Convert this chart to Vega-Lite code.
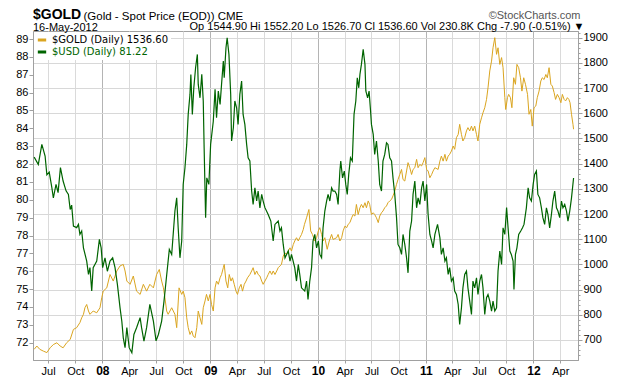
{
"$schema": "https://vega.github.io/schema/vega-lite/v6.json",
"width": 545, "height": 329,
"autosize": "none",
"padding": {"left": 33, "top": 31, "right": 46, "bottom": 20},
"background": "white",
"title": {"text": "$GOLD", "subtitle": "16-May-2012", "anchor": "start", "frame": "group", "font": "Liberation Sans", "fontSize": 14, "fontWeight": "bold", "color": "black", "subtitleFont": "Liberation Sans", "subtitleFontSize": 11, "subtitleColor": "black", "subtitlePadding": 0, "offset": -24},
"config": {
  "view": {"stroke": "#a0a0a0"},
  "axis": {"labelFont": "Liberation Sans", "labelColor": "black", "labelFontSize": 11, "domainColor": "#a0a0a0", "tickColor": "#a0a0a0", "titleFont": "Liberation Sans", "titleColor": "black", "titleFontWeight": "normal", "titlePadding": 0, "gridColor": "#d8d8d8"}
},
"datasets": {
"usd": [
{"date":"2007-05-15","usd":82.39},{"date":"2007-05-29","usd":81.98},{"date":"2007-06-10","usd":83.10},{"date":"2007-06-21","usd":82.45},{"date":"2007-06-27","usd":81.40},{"date":"2007-07-05","usd":81.55},{"date":"2007-07-14","usd":80.67},{"date":"2007-07-19","usd":80.10},{"date":"2007-07-28","usd":80.86},{"date":"2007-08-04","usd":80.40},{"date":"2007-08-12","usd":81.80},{"date":"2007-08-21","usd":81.05},{"date":"2007-08-31","usd":80.50},{"date":"2007-09-08","usd":80.30},{"date":"2007-09-14","usd":79.46},{"date":"2007-09-19","usd":79.70},{"date":"2007-09-25","usd":78.53},{"date":"2007-10-06","usd":78.44},{"date":"2007-10-12","usd":78.62},{"date":"2007-10-17","usd":78.06},{"date":"2007-10-23","usd":78.25},{"date":"2007-10-29","usd":77.31},{"date":"2007-11-09","usd":76.57},{"date":"2007-11-15","usd":75.82},{"date":"2007-11-20","usd":76.20},{"date":"2007-11-26","usd":74.89},{"date":"2007-12-01","usd":76.20},{"date":"2007-12-13","usd":76.57},{"date":"2007-12-22","usd":77.78},{"date":"2007-12-28","usd":77.31},
{"date":"2008-01-02","usd":76.20},{"date":"2008-01-10","usd":76.75},{"date":"2008-01-18","usd":76.00},{"date":"2008-01-27","usd":76.57},{"date":"2008-02-05","usd":76.75},{"date":"2008-02-13","usd":76.20},{"date":"2008-02-21","usd":75.26},{"date":"2008-03-01","usd":73.95},{"date":"2008-03-07","usd":73.20},{"date":"2008-03-12","usd":72.27},{"date":"2008-03-18","usd":71.72},{"date":"2008-03-24","usd":72.84},{"date":"2008-04-01","usd":71.72},{"date":"2008-04-10","usd":71.44},{"date":"2008-04-17","usd":72.46},{"date":"2008-04-26","usd":72.84},{"date":"2008-05-08","usd":73.40},{"date":"2008-05-13","usd":72.84},{"date":"2008-05-21","usd":72.09},{"date":"2008-05-30","usd":72.84},{"date":"2008-06-10","usd":74.14},{"date":"2008-06-22","usd":73.21},{"date":"2008-07-01","usd":72.10},{"date":"2008-07-09","usd":72.46},{"date":"2008-07-20","usd":73.21},{"date":"2008-07-28","usd":74.33},{"date":"2008-08-04","usd":75.45},{"date":"2008-08-15","usd":77.22},{"date":"2008-08-23","usd":76.94},{"date":"2008-09-03","usd":79.37},{"date":"2008-09-09","usd":80.11},{"date":"2008-09-14","usd":78.43},{"date":"2008-09-20","usd":76.75},{"date":"2008-09-26","usd":77.69},{"date":"2008-10-01","usd":80.86},{"date":"2008-10-07","usd":81.79},{"date":"2008-10-13","usd":83.10},{"date":"2008-10-18","usd":84.78},{"date":"2008-10-24","usd":85.90},{"date":"2008-10-27","usd":87.02},{"date":"2008-11-01","usd":84.78},{"date":"2008-11-06","usd":86.27},{"date":"2008-11-12","usd":87.39},{"date":"2008-11-18","usd":88.14},{"date":"2008-11-21","usd":86.46},{"date":"2008-11-27","usd":85.71},{"date":"2008-12-03","usd":87.02},{"date":"2008-12-08","usd":85.53},{"date":"2008-12-11","usd":82.90},{"date":"2008-12-16","usd":79.00},{"date":"2008-12-20","usd":81.23},{"date":"2008-12-27","usd":80.86},
{"date":"2009-01-02","usd":83.10},{"date":"2009-01-11","usd":84.40},{"date":"2009-01-17","usd":86.18},{"date":"2009-01-22","usd":84.59},{"date":"2009-01-28","usd":86.09},{"date":"2009-02-03","usd":85.34},{"date":"2009-02-08","usd":86.46},{"date":"2009-02-14","usd":87.77},{"date":"2009-02-17","usd":86.83},{"date":"2009-02-23","usd":88.51},{"date":"2009-02-27","usd":89.07},{"date":"2009-03-05","usd":88.14},{"date":"2009-03-11","usd":85.90},{"date":"2009-03-14","usd":83.29},{"date":"2009-03-20","usd":84.03},{"date":"2009-03-25","usd":85.53},{"date":"2009-03-31","usd":85.15},{"date":"2009-04-05","usd":84.22},{"date":"2009-04-11","usd":85.90},{"date":"2009-04-17","usd":86.65},{"date":"2009-04-22","usd":84.78},{"date":"2009-04-28","usd":84.22},{"date":"2009-05-04","usd":83.10},{"date":"2009-05-09","usd":82.35},{"date":"2009-05-15","usd":82.17},{"date":"2009-05-21","usd":80.49},{"date":"2009-05-26","usd":79.74},{"date":"2009-06-01","usd":80.67},{"date":"2009-06-07","usd":79.93},{"date":"2009-06-12","usd":80.49},{"date":"2009-06-18","usd":79.55},{"date":"2009-06-24","usd":80.30},{"date":"2009-06-29","usd":79.93},{"date":"2009-07-05","usd":79.56},{"date":"2009-07-16","usd":79.18},{"date":"2009-07-25","usd":78.81},{"date":"2009-08-02","usd":77.69},{"date":"2009-08-08","usd":78.62},{"date":"2009-08-19","usd":78.81},{"date":"2009-08-25","usd":78.25},{"date":"2009-08-30","usd":78.43},{"date":"2009-09-05","usd":77.50},{"date":"2009-09-11","usd":76.75},{"date":"2009-09-22","usd":77.13},{"date":"2009-09-28","usd":76.57},{"date":"2009-10-03","usd":76.94},{"date":"2009-10-14","usd":76.20},{"date":"2009-10-20","usd":75.45},{"date":"2009-10-26","usd":76.38},{"date":"2009-10-31","usd":75.82},{"date":"2009-11-06","usd":75.07},{"date":"2009-11-17","usd":74.89},{"date":"2009-11-23","usd":75.45},{"date":"2009-11-28","usd":74.42},{"date":"2009-12-04","usd":75.45},{"date":"2009-12-10","usd":76.20},{"date":"2009-12-15","usd":77.69},{"date":"2009-12-21","usd":78.06},{"date":"2009-12-27","usd":77.31},
{"date":"2010-01-02","usd":77.69},{"date":"2010-01-07","usd":76.94},{"date":"2010-01-13","usd":76.75},{"date":"2010-01-18","usd":78.43},{"date":"2010-01-24","usd":79.37},{"date":"2010-01-30","usd":79.93},{"date":"2010-02-04","usd":80.30},{"date":"2010-02-10","usd":79.93},{"date":"2010-02-16","usd":80.67},{"date":"2010-02-21","usd":80.49},{"date":"2010-02-27","usd":80.49},{"date":"2010-03-05","usd":80.30},{"date":"2010-03-10","usd":79.74},{"date":"2010-03-16","usd":81.61},{"date":"2010-03-19","usd":82.17},{"date":"2010-03-25","usd":81.23},{"date":"2010-03-31","usd":81.61},{"date":"2010-04-05","usd":80.86},{"date":"2010-04-10","usd":80.30},{"date":"2010-04-15","usd":81.42},{"date":"2010-04-21","usd":82.35},{"date":"2010-04-27","usd":82.17},{"date":"2010-04-30","usd":83.47},{"date":"2010-05-03","usd":84.78},{"date":"2010-05-09","usd":85.53},{"date":"2010-05-14","usd":86.83},{"date":"2010-05-19","usd":86.27},{"date":"2010-05-23","usd":87.02},{"date":"2010-05-28","usd":87.58},{"date":"2010-06-03","usd":88.42},{"date":"2010-06-09","usd":87.58},{"date":"2010-06-12","usd":86.09},{"date":"2010-06-18","usd":85.71},{"date":"2010-06-23","usd":86.09},{"date":"2010-06-28","usd":84.97},{"date":"2010-07-01","usd":84.22},{"date":"2010-07-07","usd":83.66},{"date":"2010-07-12","usd":82.54},{"date":"2010-07-18","usd":83.29},{"date":"2010-07-24","usd":82.17},{"date":"2010-07-29","usd":80.86},{"date":"2010-08-04","usd":80.49},{"date":"2010-08-09","usd":82.17},{"date":"2010-08-15","usd":82.54},{"date":"2010-08-21","usd":83.19},{"date":"2010-08-26","usd":83.10},{"date":"2010-09-01","usd":82.35},{"date":"2010-09-07","usd":82.17},{"date":"2010-09-12","usd":81.23},{"date":"2010-09-18","usd":80.30},{"date":"2010-09-24","usd":79.00},{"date":"2010-09-29","usd":77.50},{"date":"2010-10-05","usd":77.31},{"date":"2010-10-11","usd":76.94},{"date":"2010-10-16","usd":78.06},{"date":"2010-10-22","usd":77.50},{"date":"2010-10-28","usd":76.75},{"date":"2010-11-02","usd":75.91},{"date":"2010-11-08","usd":78.25},{"date":"2010-11-14","usd":78.81},{"date":"2010-11-19","usd":80.30},{"date":"2010-11-25","usd":81.05},{"date":"2010-12-01","usd":79.55},{"date":"2010-12-06","usd":80.11},{"date":"2010-12-12","usd":79.74},{"date":"2010-12-18","usd":80.67},{"date":"2010-12-23","usd":81.05},{"date":"2010-12-29","usd":79.93},
{"date":"2011-01-04","usd":80.86},{"date":"2011-01-09","usd":79.18},{"date":"2011-01-15","usd":78.06},{"date":"2011-01-21","usd":77.69},{"date":"2011-01-26","usd":77.31},{"date":"2011-02-01","usd":78.06},{"date":"2011-02-10","usd":78.62},{"date":"2011-02-18","usd":77.87},{"date":"2011-02-23","usd":76.94},{"date":"2011-03-01","usd":77.31},{"date":"2011-03-07","usd":76.57},{"date":"2011-03-12","usd":76.75},{"date":"2011-03-18","usd":75.82},{"date":"2011-03-23","usd":76.20},{"date":"2011-03-29","usd":75.45},{"date":"2011-04-04","usd":75.63},{"date":"2011-04-09","usd":74.89},{"date":"2011-04-15","usd":74.70},{"date":"2011-04-21","usd":74.14},{"date":"2011-04-26","usd":73.02},{"date":"2011-05-02","usd":73.95},{"date":"2011-05-07","usd":75.07},{"date":"2011-05-13","usd":75.82},{"date":"2011-05-19","usd":76.01},{"date":"2011-05-24","usd":75.07},{"date":"2011-05-30","usd":74.33},{"date":"2011-06-05","usd":73.58},{"date":"2011-06-10","usd":75.45},{"date":"2011-06-16","usd":75.07},{"date":"2011-06-22","usd":75.63},{"date":"2011-06-27","usd":74.70},{"date":"2011-07-03","usd":75.45},{"date":"2011-07-09","usd":75.82},{"date":"2011-07-14","usd":75.07},{"date":"2011-07-20","usd":73.58},{"date":"2011-07-26","usd":74.52},{"date":"2011-07-31","usd":74.70},{"date":"2011-08-06","usd":74.33},{"date":"2011-08-12","usd":73.77},{"date":"2011-08-17","usd":74.33},{"date":"2011-08-23","usd":73.77},{"date":"2011-08-29","usd":73.95},{"date":"2011-09-03","usd":76.01},{"date":"2011-09-09","usd":77.13},{"date":"2011-09-15","usd":76.38},{"date":"2011-09-20","usd":78.43},{"date":"2011-09-26","usd":78.06},{"date":"2011-10-02","usd":79.56},{"date":"2011-10-07","usd":78.43},{"date":"2011-10-13","usd":77.13},{"date":"2011-10-18","usd":76.94},{"date":"2011-10-24","usd":76.57},{"date":"2011-10-27","usd":74.98},{"date":"2011-11-01","usd":76.94},{"date":"2011-11-06","usd":77.31},{"date":"2011-11-12","usd":78.06},{"date":"2011-11-19","usd":78.25},{"date":"2011-11-25","usd":78.43},{"date":"2011-11-30","usd":78.62},{"date":"2011-12-08","usd":79.55},{"date":"2011-12-14","usd":80.67},{"date":"2011-12-19","usd":80.11},{"date":"2011-12-25","usd":79.93},{"date":"2011-12-31","usd":80.86},
{"date":"2012-01-05","usd":81.42},{"date":"2012-01-11","usd":81.61},{"date":"2012-01-16","usd":80.30},{"date":"2012-01-22","usd":80.11},{"date":"2012-01-28","usd":79.55},{"date":"2012-02-02","usd":79.00},{"date":"2012-02-08","usd":78.62},{"date":"2012-02-14","usd":79.55},{"date":"2012-02-19","usd":79.18},{"date":"2012-02-25","usd":78.43},{"date":"2012-03-02","usd":79.18},{"date":"2012-03-07","usd":79.93},{"date":"2012-03-13","usd":80.49},{"date":"2012-03-19","usd":79.55},{"date":"2012-03-24","usd":79.37},{"date":"2012-03-30","usd":79.00},{"date":"2012-04-05","usd":79.93},{"date":"2012-04-10","usd":79.55},{"date":"2012-04-16","usd":79.74},{"date":"2012-04-22","usd":79.37},{"date":"2012-04-27","usd":78.81},{"date":"2012-05-03","usd":79.37},{"date":"2012-05-09","usd":80.11},{"date":"2012-05-16","usd":81.22}
],
"gold": [
{"date":"2007-05-15","gold":663},{"date":"2007-05-24","gold":676},{"date":"2007-06-03","gold":663},{"date":"2007-06-15","gold":656},{"date":"2007-06-27","gold":650},{"date":"2007-07-08","gold":669},{"date":"2007-07-19","gold":682},{"date":"2007-07-31","gold":689},{"date":"2007-08-11","gold":676},{"date":"2007-08-21","gold":669},{"date":"2007-09-02","gold":689},{"date":"2007-09-14","gold":702},{"date":"2007-09-25","gold":742},{"date":"2007-10-06","gold":749},{"date":"2007-10-17","gold":769},{"date":"2007-10-23","gold":788},{"date":"2007-10-29","gold":802},{"date":"2007-11-03","gold":828},{"date":"2007-11-09","gold":841},{"date":"2007-11-15","gold":815},{"date":"2007-11-20","gold":802},{"date":"2007-12-01","gold":815},{"date":"2007-12-13","gold":808},{"date":"2007-12-24","gold":828},{"date":"2007-12-30","gold":868},
{"date":"2008-01-04","gold":894},{"date":"2008-01-16","gold":907},{"date":"2008-01-27","gold":960},{"date":"2008-02-07","gold":934},{"date":"2008-02-19","gold":974},{"date":"2008-03-01","gold":994},{"date":"2008-03-12","gold":1000},{"date":"2008-03-18","gold":974},{"date":"2008-03-24","gold":934},{"date":"2008-04-04","gold":921},{"date":"2008-04-15","gold":954},{"date":"2008-04-26","gold":894},{"date":"2008-05-08","gold":881},{"date":"2008-05-19","gold":921},{"date":"2008-05-30","gold":894},{"date":"2008-06-10","gold":921},{"date":"2008-06-22","gold":907},{"date":"2008-07-03","gold":960},{"date":"2008-07-12","gold":980},{"date":"2008-07-20","gold":934},{"date":"2008-07-26","gold":907},{"date":"2008-07-31","gold":868},{"date":"2008-08-06","gold":815},{"date":"2008-08-11","gold":802},{"date":"2008-08-23","gold":828},{"date":"2008-09-03","gold":802},{"date":"2008-09-09","gold":749},{"date":"2008-09-17","gold":907},{"date":"2008-09-26","gold":881},{"date":"2008-10-01","gold":894},{"date":"2008-10-07","gold":868},{"date":"2008-10-13","gold":788},{"date":"2008-10-18","gold":749},{"date":"2008-10-24","gold":722},{"date":"2008-10-30","gold":736},{"date":"2008-11-04","gold":716},{"date":"2008-11-10","gold":709},{"date":"2008-11-16","gold":749},{"date":"2008-11-21","gold":815},{"date":"2008-11-27","gold":788},{"date":"2008-12-03","gold":762},{"date":"2008-12-08","gold":828},{"date":"2008-12-14","gold":855},{"date":"2008-12-19","gold":881},{"date":"2008-12-25","gold":855},{"date":"2008-12-31","gold":881},
{"date":"2009-01-05","gold":841},{"date":"2009-01-11","gold":815},{"date":"2009-01-17","gold":907},{"date":"2009-01-22","gold":934},{"date":"2009-01-28","gold":921},{"date":"2009-02-03","gold":947},{"date":"2009-02-08","gold":960},{"date":"2009-02-14","gold":987},{"date":"2009-02-17","gold":1000},{"date":"2009-02-23","gold":934},{"date":"2009-03-01","gold":907},{"date":"2009-03-06","gold":960},{"date":"2009-03-12","gold":934},{"date":"2009-03-17","gold":947},{"date":"2009-03-23","gold":921},{"date":"2009-03-29","gold":894},{"date":"2009-04-03","gold":881},{"date":"2009-04-09","gold":907},{"date":"2009-04-15","gold":921},{"date":"2009-04-20","gold":894},{"date":"2009-04-26","gold":921},{"date":"2009-05-02","gold":934},{"date":"2009-05-07","gold":947},{"date":"2009-05-15","gold":960},{"date":"2009-05-21","gold":974},{"date":"2009-05-26","gold":987},{"date":"2009-06-01","gold":960},{"date":"2009-06-07","gold":974},{"date":"2009-06-12","gold":960},{"date":"2009-06-18","gold":954},{"date":"2009-06-24","gold":934},{"date":"2009-06-29","gold":921},{"date":"2009-07-05","gold":934},{"date":"2009-07-11","gold":947},{"date":"2009-07-16","gold":960},{"date":"2009-07-22","gold":974},{"date":"2009-07-28","gold":960},{"date":"2009-08-02","gold":974},{"date":"2009-08-08","gold":960},{"date":"2009-08-14","gold":974},{"date":"2009-08-19","gold":987},{"date":"2009-08-25","gold":994},{"date":"2009-08-30","gold":1000},{"date":"2009-09-05","gold":1033},{"date":"2009-09-11","gold":1046},{"date":"2009-09-16","gold":1040},{"date":"2009-09-22","gold":1053},{"date":"2009-09-28","gold":1066},{"date":"2009-10-03","gold":1053},{"date":"2009-10-09","gold":1079},{"date":"2009-10-14","gold":1093},{"date":"2009-10-20","gold":1106},{"date":"2009-10-26","gold":1093},{"date":"2009-10-31","gold":1106},{"date":"2009-11-06","gold":1119},{"date":"2009-11-12","gold":1139},{"date":"2009-11-16","gold":1159},{"date":"2009-11-23","gold":1185},{"date":"2009-12-01","gold":1218},{"date":"2009-12-07","gold":1133},{"date":"2009-12-13","gold":1119},{"date":"2009-12-21","gold":1093},{"date":"2009-12-27","gold":1106},
{"date":"2010-01-02","gold":1133},{"date":"2010-01-07","gold":1146},{"date":"2010-01-13","gold":1119},{"date":"2010-01-18","gold":1093},{"date":"2010-01-24","gold":1106},{"date":"2010-02-01","gold":1060},{"date":"2010-02-08","gold":1093},{"date":"2010-02-16","gold":1119},{"date":"2010-02-21","gold":1099},{"date":"2010-03-05","gold":1106},{"date":"2010-03-10","gold":1119},{"date":"2010-03-16","gold":1093},{"date":"2010-03-22","gold":1106},{"date":"2010-03-27","gold":1133},{"date":"2010-04-02","gold":1152},{"date":"2010-04-08","gold":1146},{"date":"2010-04-13","gold":1159},{"date":"2010-04-19","gold":1166},{"date":"2010-04-25","gold":1185},{"date":"2010-04-30","gold":1198},{"date":"2010-05-06","gold":1192},{"date":"2010-05-11","gold":1238},{"date":"2010-05-17","gold":1198},{"date":"2010-05-23","gold":1225},{"date":"2010-05-28","gold":1238},{"date":"2010-06-03","gold":1225},{"date":"2010-06-09","gold":1245},{"date":"2010-06-14","gold":1225},{"date":"2010-06-20","gold":1252},{"date":"2010-06-25","gold":1238},{"date":"2010-07-01","gold":1198},{"date":"2010-07-07","gold":1205},{"date":"2010-07-12","gold":1198},{"date":"2010-07-18","gold":1185},{"date":"2010-07-24","gold":1166},{"date":"2010-07-29","gold":1192},{"date":"2010-08-04","gold":1205},{"date":"2010-08-09","gold":1212},{"date":"2010-08-15","gold":1225},{"date":"2010-08-21","gold":1232},{"date":"2010-08-26","gold":1245},{"date":"2010-09-01","gold":1252},{"date":"2010-09-07","gold":1258},{"date":"2010-09-12","gold":1272},{"date":"2010-09-18","gold":1291},{"date":"2010-09-24","gold":1318},{"date":"2010-09-29","gold":1337},{"date":"2010-10-05","gold":1357},{"date":"2010-10-11","gold":1377},{"date":"2010-10-16","gold":1337},{"date":"2010-10-22","gold":1331},{"date":"2010-10-28","gold":1371},{"date":"2010-11-02","gold":1404},{"date":"2010-11-08","gold":1384},{"date":"2010-11-14","gold":1357},{"date":"2010-11-19","gold":1377},{"date":"2010-11-25","gold":1384},{"date":"2010-12-01","gold":1417},{"date":"2010-12-06","gold":1384},{"date":"2010-12-12","gold":1397},{"date":"2010-12-18","gold":1391},{"date":"2010-12-23","gold":1404},{"date":"2010-12-29","gold":1424},
{"date":"2011-01-04","gold":1377},{"date":"2011-01-09","gold":1371},{"date":"2011-01-15","gold":1344},{"date":"2011-01-21","gold":1357},{"date":"2011-01-26","gold":1371},{"date":"2011-02-01","gold":1384},{"date":"2011-02-12","gold":1377},{"date":"2011-02-18","gold":1410},{"date":"2011-02-23","gold":1430},{"date":"2011-03-01","gold":1410},{"date":"2011-03-07","gold":1437},{"date":"2011-03-12","gold":1410},{"date":"2011-03-18","gold":1430},{"date":"2011-03-23","gold":1437},{"date":"2011-03-29","gold":1450},{"date":"2011-04-04","gold":1470},{"date":"2011-04-09","gold":1457},{"date":"2011-04-15","gold":1503},{"date":"2011-04-21","gold":1516},{"date":"2011-04-26","gold":1556},{"date":"2011-05-02","gold":1516},{"date":"2011-05-07","gold":1490},{"date":"2011-05-13","gold":1503},{"date":"2011-05-19","gold":1530},{"date":"2011-05-24","gold":1543},{"date":"2011-05-30","gold":1530},{"date":"2011-06-05","gold":1549},{"date":"2011-06-10","gold":1530},{"date":"2011-06-16","gold":1549},{"date":"2011-06-22","gold":1516},{"date":"2011-06-27","gold":1490},{"date":"2011-07-03","gold":1556},{"date":"2011-07-09","gold":1582},{"date":"2011-07-14","gold":1602},{"date":"2011-07-20","gold":1622},{"date":"2011-07-26","gold":1655},{"date":"2011-07-31","gold":1701},{"date":"2011-08-06","gold":1768},{"date":"2011-08-12","gold":1807},{"date":"2011-08-17","gold":1860},{"date":"2011-08-23","gold":1900},{"date":"2011-08-29","gold":1834},{"date":"2011-09-03","gold":1860},{"date":"2011-09-09","gold":1794},{"date":"2011-09-15","gold":1821},{"date":"2011-09-20","gold":1781},{"date":"2011-09-26","gold":1662},{"date":"2011-09-29","gold":1615},{"date":"2011-10-05","gold":1662},{"date":"2011-10-09","gold":1675},{"date":"2011-10-15","gold":1662},{"date":"2011-10-20","gold":1622},{"date":"2011-10-26","gold":1741},{"date":"2011-11-01","gold":1715},{"date":"2011-11-06","gold":1794},{"date":"2011-11-12","gold":1781},{"date":"2011-11-18","gold":1741},{"date":"2011-11-23","gold":1688},{"date":"2011-11-29","gold":1741},{"date":"2011-12-05","gold":1715},{"date":"2011-12-12","gold":1675},{"date":"2011-12-17","gold":1596},{"date":"2011-12-23","gold":1615},{"date":"2011-12-28","gold":1549},
{"date":"2012-01-03","gold":1622},{"date":"2012-01-09","gold":1629},{"date":"2012-01-14","gold":1662},{"date":"2012-01-20","gold":1688},{"date":"2012-01-26","gold":1728},{"date":"2012-01-31","gold":1741},{"date":"2012-02-06","gold":1734},{"date":"2012-02-12","gold":1754},{"date":"2012-02-17","gold":1741},{"date":"2012-02-23","gold":1781},{"date":"2012-02-29","gold":1715},{"date":"2012-03-05","gold":1708},{"date":"2012-03-11","gold":1682},{"date":"2012-03-16","gold":1655},{"date":"2012-03-22","gold":1675},{"date":"2012-03-28","gold":1662},{"date":"2012-04-03","gold":1642},{"date":"2012-04-08","gold":1675},{"date":"2012-04-14","gold":1655},{"date":"2012-04-19","gold":1649},{"date":"2012-04-25","gold":1662},{"date":"2012-04-30","gold":1655},{"date":"2012-05-04","gold":1642},{"date":"2012-05-09","gold":1596},{"date":"2012-05-14","gold":1556},{"date":"2012-05-16","gold":1536.6}
]
},
"encoding": {
  "x": {"field": "date", "type": "temporal",
    "scale": {"type": "utc", "domain": [{"year": 2007, "month": 5, "date": 11, "utc": true}, {"year": 2012, "month": 5, "date": 31, "utc": true}]},
    "axis": {"tickCount": {"interval": "month", "step": 3},
      "labelExpr": "utcmonth(datum.value) == 0 ? utcFormat(datum.value, '%y') : utcFormat(datum.value, '%b')",
      "labelFontWeight": {"condition": {"test": "utcmonth(datum.value) == 0", "value": "bold"}, "value": "normal"},
      "labelFontSize": {"condition": {"test": "utcmonth(datum.value) == 0", "value": 12}, "value": 11},
      "grid": true,
      "gridColor": {"condition": {"test": "utcmonth(datum.value) == 0", "value": "#b4b4b4"}, "value": "#dadada"},
      "tickSize": 3, "labelPadding": 2, "labelOverlap": false, "labelFlush": false, "labelBound": false,
      "title": "Op 1544.90  Hi 1552.20  Lo 1526.70  Cl 1536.60  Vol 230.8K  Chg -7.90 (-0.51%) ▼",
      "titleX": 551, "titleY": -331, "titleAlign": "right", "titleBaseline": "alphabetic", "titleFontSize": 11, "titleAnchor": null}
  }
},
"layer": [
  {"data": {"name": "gold"},
   "mark": {"type": "line", "strokeWidth": 1, "interpolate": "linear"},
   "encoding": {
     "y": {"field": "gold", "type": "quantitative",
       "scale": {"domain": [620.6, 1926.6], "nice": false, "zero": false},
       "axis": {"orient": "right",
         "values": [640,660,680,700,720,740,760,780,800,820,840,860,880,900,920,940,960,980,1000,1020,1040,1060,1080,1100,1120,1140,1160,1180,1200,1220,1240,1260,1280,1300,1320,1340,1360,1380,1400,1420,1440,1460,1480,1500,1520,1540,1560,1580,1600,1620,1640,1660,1680,1700,1720,1740,1760,1780,1800,1820,1840,1860,1880,1900,1920],
         "labelExpr": "datum.value % 100 == 0 ? '' + datum.value : ''",
         "tickSize": {"condition": {"test": "datum.value % 100 == 0", "value": 4}, "value": 2},
         "grid": true,
         "gridOpacity": {"condition": {"test": "datum.value % 100 == 0", "value": 1}, "value": 0},
         "labelPadding": 1, "labelOverlap": false, "labelBound": false, "labelFlush": false,
         "title": "©StockCharts.com", "titleAngle": 0, "titleX": 2, "titleY": -13, "titleAlign": "right", "titleBaseline": "alphabetic", "titleColor": "#555555", "titleFontSize": 11}},
     "color": {"datum": "$GOLD (Daily) 1536.60", "type": "nominal",
       "scale": {"domain": ["$GOLD (Daily) 1536.60", "$USD (Daily) 81.22"], "range": ["#DAA520", "#006400"]},
       "legend": {"title": null, "orient": "top-left", "offset": 1, "padding": 2, "fillColor": "white",
         "symbolType": "stroke", "symbolSize": 70, "symbolStrokeWidth": 3,
         "labelFont": "DejaVu Sans", "labelFontSize": 10, "labelColor": "black", "rowPadding": 0, "labelOffset": 4,
         "encode": {"labels": {"update": {"fill": {"signal": "datum.value == '$USD (Daily) 81.22' ? '#006400' : '#000000'"}}}}}}
   }},
  {"data": {"name": "usd"},
   "mark": {"type": "line", "strokeWidth": 1.2, "interpolate": "linear"},
   "encoding": {
     "y": {"field": "usd", "type": "quantitative",
       "scale": {"domain": [71.03, 89.45], "nice": false, "zero": false},
       "axis": {"orient": "left", "values": [72,73,74,75,76,77,78,79,80,81,82,83,84,85,86,87,88,89],
         "grid": false, "tickSize": 4, "labelPadding": 1,
         "title": "(Gold - Spot Price (EOD))  CME", "titleAngle": 0, "titleX": 50, "titleY": -12, "titleAlign": "left", "titleBaseline": "alphabetic", "titleFontSize": 11.5}},
     "color": {"datum": "$USD (Daily) 81.22", "type": "nominal"}
   }}
],
"resolve": {"scale": {"y": "independent"}}
}
